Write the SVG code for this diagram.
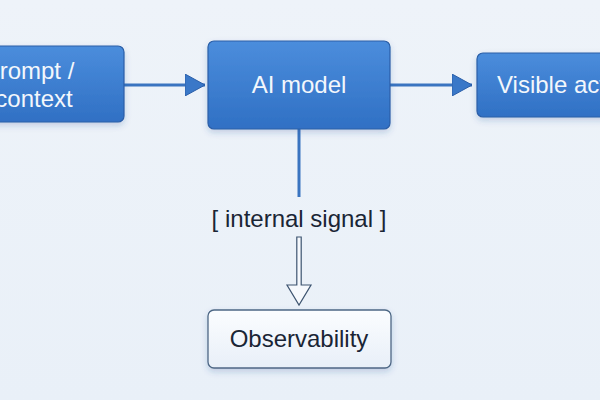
<svg xmlns="http://www.w3.org/2000/svg" width="600" height="400" viewBox="0 0 600 400">
<defs>
<linearGradient id="bg" x1="0" y1="0" x2="0" y2="1"><stop offset="0" stop-color="#eef3f9"/><stop offset="1" stop-color="#e9f0f8"/></linearGradient>
<linearGradient id="blue" x1="0" y1="0" x2="0" y2="1"><stop offset="0" stop-color="#4b8ddc"/><stop offset="1" stop-color="#3070c4"/></linearGradient>
<linearGradient id="white" x1="0" y1="0" x2="0" y2="1"><stop offset="0" stop-color="#fbfdff"/><stop offset="1" stop-color="#e8eff8"/></linearGradient>
<filter id="sh" x="-20%" y="-20%" width="140%" height="150%"><feDropShadow dx="0" dy="3" stdDeviation="3" flood-color="#1d4f95" flood-opacity="0.22"/></filter>
<marker id="ah" viewBox="0 0 20 22" refX="20" refY="11" markerWidth="20" markerHeight="22" markerUnits="userSpaceOnUse" orient="auto"><path d="M0,0 L20,11 L0,22 Z" fill="#3a78c8" stroke="#2a5ea8" stroke-width="1"/></marker>
</defs>
<style>
.b{fill:url(#blue);stroke:#2a5ea8;stroke-width:1.2;filter:url(#sh)}
.w{fill:url(#white);stroke:#4d6785;stroke-width:1.3;filter:url(#sh)}
.tb{font-family:"Liberation Sans",Arial,sans-serif;font-size:24px;fill:#f3f7fc;text-anchor:middle}
.td{font-family:"Liberation Sans",Arial,sans-serif;font-size:24px;fill:#1a2535;text-anchor:middle}
.c{stroke:#3a74c0;stroke-width:3;fill:none}
</style>
<rect width="600" height="400" fill="url(#bg)"/>
<g id="connectors">
<line class="c" x1="124" y1="85" x2="205" y2="85" marker-end="url(#ah)"/>
<line class="c" x1="390" y1="85" x2="472" y2="85" marker-end="url(#ah)"/>
<line class="c" x1="299" y1="129" x2="299" y2="197"/>
<path d="M296.8,237 L296.8,285 L287,285 L299,305 L311,285 L301.2,285 L301.2,237 Z" fill="#f6f9fd" stroke="#3d5470" stroke-width="1.2" stroke-linejoin="miter"/>
</g>
<g id="prompt">
<rect class="b" x="-20" y="46" width="144" height="76" rx="6"/>
<text class="tb" x="29" y="79">Prompt /</text>
<text class="tb" x="34" y="107">context</text>
</g>
<g id="model">
<rect class="b" x="208" y="41" width="182" height="88" rx="6"/>
<text class="tb" x="299" y="93">AI model</text>
</g>
<g id="action">
<rect class="b" x="477" y="53" width="160" height="64" rx="6"/>
<text class="tb" x="497" y="93" style="text-anchor:start">Visible action</text>
</g>
<g id="signal">
<text class="td" x="299" y="227">[ internal signal ]</text>
</g>
<g id="observability">
<rect class="w" x="208" y="310" width="183" height="58" rx="6"/>
<text class="td" x="299" y="347">Observability</text>
</g>
</svg>
